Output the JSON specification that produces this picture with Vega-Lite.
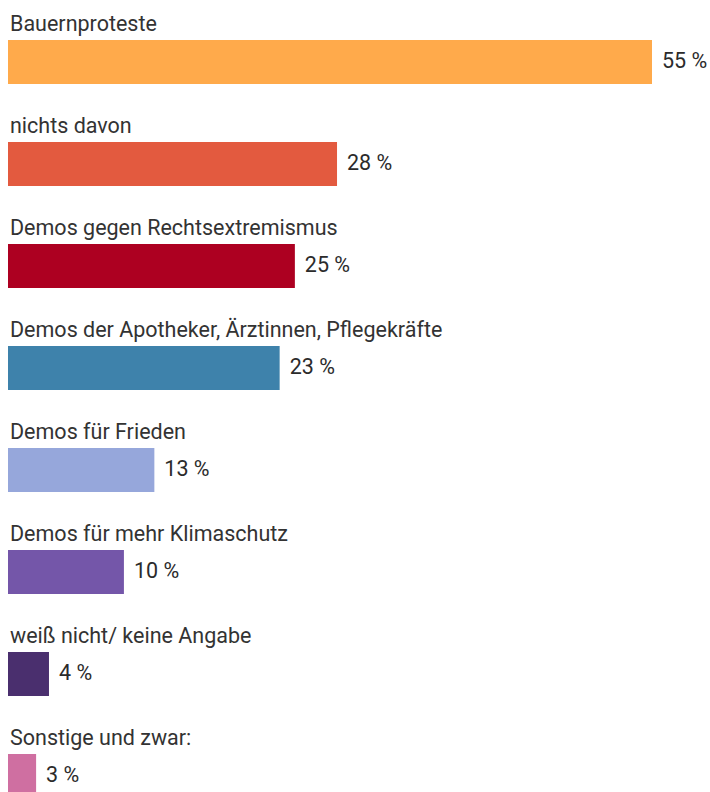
{
  "$schema": "https://vega.github.io/schema/vega-lite/v6.json",
  "width": 644,
  "height": 792,
  "autosize": "none",
  "padding": {"left": 8, "top": 0, "right": 58, "bottom": 0},
  "background": "white",
  "config": {"view": {"stroke": null}, "font": "Roboto"},
  "data": {
    "values": [
      {"kategorie": "Bauernproteste", "wert": 55, "label": "55 %", "farbe": "#FFAA4B"},
      {"kategorie": "nichts davon", "wert": 28.1, "label": "28 %", "farbe": "#E35A3F"},
      {"kategorie": "Demos gegen Rechtsextremismus", "wert": 24.5, "label": "25 %", "farbe": "#AD0021"},
      {"kategorie": "Demos der Apotheker, Ärztinnen, Pflegekräfte", "wert": 23.2, "label": "23 %", "farbe": "#3E82AB"},
      {"kategorie": "Demos für Frieden", "wert": 12.5, "label": "13 %", "farbe": "#96A7DB"},
      {"kategorie": "Demos für mehr Klimaschutz", "wert": 9.9, "label": "10 %", "farbe": "#7456A9"},
      {"kategorie": "weiß nicht/ keine Angabe", "wert": 3.5, "label": "4 %", "farbe": "#4A2F6E"},
      {"kategorie": "Sonstige und zwar:", "wert": 2.4, "label": "3 %", "farbe": "#CF6FA1"}
    ]
  },
  "encoding": {
    "y": {
      "field": "kategorie",
      "type": "nominal",
      "sort": null,
      "axis": null,
      "scale": {"range": [0, 838], "paddingInner": 0.5686, "paddingOuter": 0.392}
    }
  },
  "layer": [
    {
      "mark": {"type": "bar"},
      "encoding": {
        "x": {"field": "wert", "type": "quantitative", "axis": null, "scale": {"domain": [0, 55], "nice": false}},
        "color": {"field": "farbe", "type": "nominal", "scale": null}
      }
    },
    {
      "mark": {"type": "text", "align": "left", "baseline": "middle", "dx": 10, "fontSize": 21.5, "color": "#2b2b2b"},
      "encoding": {
        "x": {"field": "wert", "type": "quantitative"},
        "text": {"field": "label"}
      }
    },
    {
      "mark": {"type": "text", "align": "left", "baseline": "alphabetic", "dx": 2, "dy": -9, "fontSize": 21.5, "color": "#333333"},
      "encoding": {
        "x": {"datum": 0, "type": "quantitative"},
        "y": {"field": "kategorie", "type": "nominal", "sort": null, "bandPosition": 0},
        "text": {"field": "kategorie"}
      }
    }
  ]
}
